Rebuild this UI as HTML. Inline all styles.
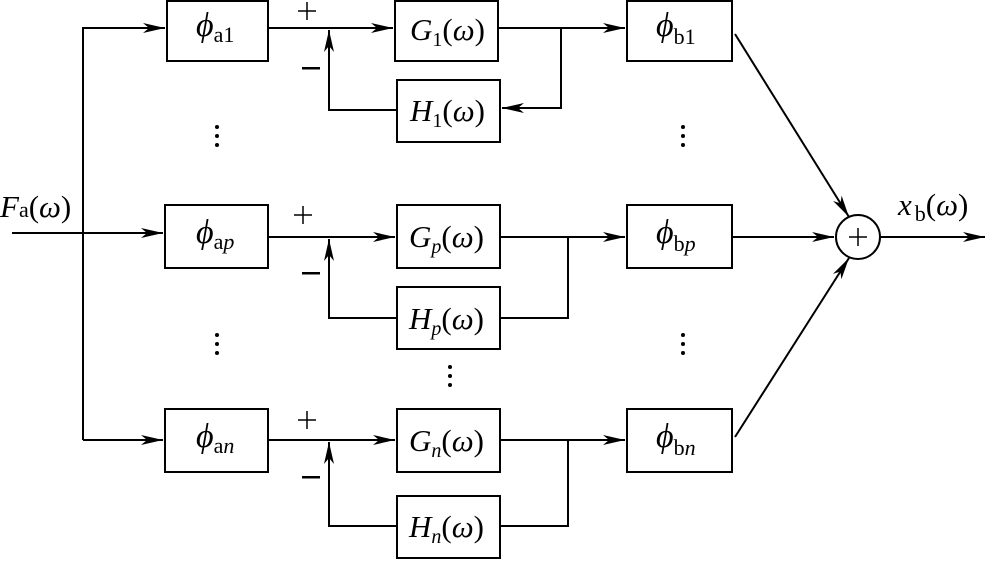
<!DOCTYPE html>
<html><head><style>
body{margin:0;background:#fff}
svg{display:block}
text{font-family:"Liberation Serif",serif;fill:#000}
.i{font-style:italic}
</style></head><body>
<svg width="988" height="561" viewBox="0 0 988 561" xmlns="http://www.w3.org/2000/svg">
<defs><marker id="a" viewBox="0 0 22 12" refX="22" refY="6" markerWidth="22" markerHeight="12" markerUnits="userSpaceOnUse" orient="auto"><path d="M0,1 L22,6 L0,11 L6,6 Z" fill="#000"/></marker></defs>
<g fill="none" stroke="#000" stroke-width="2">
<rect x="167" y="1" width="101" height="60"/>
<rect x="165" y="205" width="103" height="63"/>
<rect x="165" y="409" width="103" height="63"/>
<rect x="395" y="1" width="103" height="60"/>
<rect x="397" y="80" width="103" height="62"/>
<rect x="397" y="205" width="103" height="63"/>
<rect x="397" y="287" width="103" height="62"/>
<rect x="397" y="409" width="103" height="63"/>
<rect x="397" y="496" width="103" height="62"/>
<rect x="627" y="1" width="105" height="60"/>
<rect x="627" y="205" width="105" height="63"/>
<rect x="627" y="409" width="105" height="63"/>
<circle cx="858" cy="237" r="22"/>
<path d="M12,233 H163" marker-end="url(#a)"/>
<path d="M83,440 V28 H165" marker-end="url(#a)"/>
<path d="M83,440 H163" marker-end="url(#a)"/>
<path d="M268,28 H393" marker-end="url(#a)"/>
<path d="M268,237 H395" marker-end="url(#a)"/>
<path d="M268,440 H395" marker-end="url(#a)"/>
<path d="M397,110 H329 V30" marker-end="url(#a)"/>
<path d="M397,318 H329 V239" marker-end="url(#a)"/>
<path d="M397,526 H329 V442" marker-end="url(#a)"/>
<path d="M498,28 H625" marker-end="url(#a)"/>
<path d="M561,28 V108 H502" marker-end="url(#a)"/>
<path d="M500,237 H625" marker-end="url(#a)"/>
<path d="M568,237 V318 H500"/>
<path d="M500,440 H625" marker-end="url(#a)"/>
<path d="M568,440 V526 H500"/>
<path d="M732,237 H834" marker-end="url(#a)"/>
<path d="M735,34 L849,217" marker-end="url(#a)"/>
<path d="M735,437 L849,258" marker-end="url(#a)"/>
<path d="M880,237 H985" marker-end="url(#a)"/>
<path d="M849,237 H867 M858,228 V246" stroke-width="1.5"/>
<path d="M298,11 H316 M307,2 V20 M294,215 H312 M303,206 V224 M298,420 H316 M307,411 V429" stroke-width="1.5"/>
</g>
<g fill="#000">
<circle cx="217" cy="127" r="2"/><circle cx="217" cy="136" r="2"/><circle cx="217" cy="145" r="2"/>
<circle cx="683" cy="127" r="2"/><circle cx="683" cy="136" r="2"/><circle cx="683" cy="145" r="2"/>
<circle cx="217" cy="335" r="2"/><circle cx="217" cy="344" r="2"/><circle cx="217" cy="353" r="2"/>
<circle cx="683" cy="335" r="2"/><circle cx="683" cy="344" r="2"/><circle cx="683" cy="353" r="2"/>
<circle cx="450" cy="367" r="2"/><circle cx="450" cy="376" r="2"/><circle cx="450" cy="385" r="2"/>
<rect x="302" y="67" width="18" height="2.5"/>
<rect x="302" y="272" width="18" height="2.5"/>
<rect x="302" y="476" width="18" height="2.5"/>
</g>
<g font-size="31">
<text x="0" y="217"><tspan class="i">F</tspan><tspan font-size="22">a</tspan>(<tspan class="i">ω</tspan>)</text>
<text x="898" y="215"><tspan class="i">x</tspan><tspan font-size="22" dx="3" dy="6">b</tspan><tspan dy="-6">(</tspan><tspan class="i">ω</tspan>)</text>
<text x="196" y="36" class="i" font-size="34">ϕ<tspan font-size="22" font-style="normal" dy="6">a1</tspan></text>
<text x="196" y="243" class="i" font-size="34">ϕ<tspan font-size="22" font-style="normal" dy="6">a</tspan><tspan font-size="22">p</tspan></text>
<text x="196" y="447" class="i" font-size="34">ϕ<tspan font-size="22" font-style="normal" dy="6">a</tspan><tspan font-size="22">n</tspan></text>
<text x="656" y="36" class="i" font-size="34">ϕ<tspan font-size="22" font-style="normal" dy="8">b1</tspan></text>
<text x="656" y="243" class="i" font-size="34">ϕ<tspan font-size="22" font-style="normal" dy="8">b</tspan><tspan font-size="22">p</tspan></text>
<text x="656" y="447" class="i" font-size="34">ϕ<tspan font-size="22" font-style="normal" dy="8">b</tspan><tspan font-size="22">n</tspan></text>
<text x="410" y="40"><tspan class="i">G</tspan><tspan font-size="20" dy="6">1</tspan><tspan dy="-6">(</tspan><tspan class="i">ω</tspan>)</text>
<text x="410" y="121"><tspan class="i">H</tspan><tspan font-size="20" dy="6">1</tspan><tspan dy="-6">(</tspan><tspan class="i">ω</tspan>)</text>
<text x="409" y="247"><tspan class="i">G</tspan><tspan font-size="20" class="i" dy="6">p</tspan><tspan dy="-6">(</tspan><tspan class="i">ω</tspan>)</text>
<text x="409" y="329"><tspan class="i">H</tspan><tspan font-size="20" class="i" dy="6">p</tspan><tspan dy="-6">(</tspan><tspan class="i">ω</tspan>)</text>
<text x="409" y="451"><tspan class="i">G</tspan><tspan font-size="20" class="i" dy="6">n</tspan><tspan dy="-6">(</tspan><tspan class="i">ω</tspan>)</text>
<text x="409" y="537"><tspan class="i">H</tspan><tspan font-size="20" class="i" dy="6">n</tspan><tspan dy="-6">(</tspan><tspan class="i">ω</tspan>)</text>
</g>
</svg>
</body></html>
